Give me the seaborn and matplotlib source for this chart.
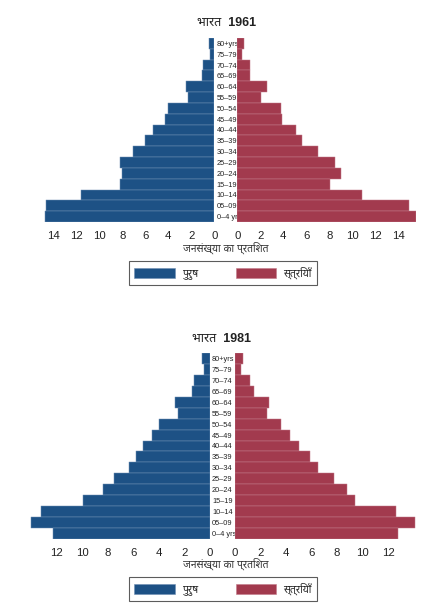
import matplotlib
matplotlib.use("Agg")
import matplotlib.pyplot as plt
from matplotlib import font_manager as fm
from matplotlib.patches import Patch
import seaborn as sns
import pandas as pd

ages = ["80+yrs", "75–79", "70–74", "65–69", "60–64", "55–59", "50–54", "45–49",
        "40–44", "35–39", "30–34", "25–29", "20–24", "15–19", "10–14", "05–09", "0–4 yrs"]

male_1961 = [0.5, 0.35, 1.0, 1.1, 2.5, 2.3, 4.0, 4.3, 5.3, 6.0, 7.1, 8.2, 8.0, 8.2, 11.6, 14.6, 14.7]
female_1961 = [0.6, 0.4, 1.1, 1.1, 2.6, 2.1, 3.8, 3.9, 5.1, 5.6, 7.0, 8.5, 9.0, 8.1, 10.8, 14.9, 15.5]

male_1981 = [0.6, 0.47, 1.2, 1.4, 2.7, 2.5, 4.0, 4.5, 5.2, 5.8, 6.3, 7.5, 8.4, 9.9, 13.2, 14.0, 12.3]
female_1981 = [0.6, 0.47, 1.2, 1.5, 2.7, 2.5, 3.6, 4.3, 5.0, 5.9, 6.5, 7.8, 8.8, 9.4, 12.6, 14.1, 12.8]

ticks_1961 = [0, 2, 4, 6, 8, 10, 12, 14]
ticks_1981 = [0, 2, 4, 6, 8, 10, 12]

title_1961 = "भारत  1961"
title_1981 = "भारत  1981"
xlabel = "जनसंख्या का प्रतिशत"
legend_labels = ["पुरुष", "स्त्रियाँ"]

BLUE = "#1d5185"
RED = "#a23a4e"

sns.set_theme(style="white")


def find_deva():
    for name in ["Noto Sans Devanagari", "Noto Serif Devanagari", "Lohit Devanagari",
                 "Mukta", "Hind", "FreeSans", "Gargi", "Kalimati", "Mangal"]:
        try:
            fm.findfont(fm.FontProperties(family=name), fallback_to_default=False)
            return name
        except Exception:
            pass
    try:
        from fontTools.ttLib import TTFont
        for f in fm.fontManager.ttflist:
            try:
                tt = TTFont(f.fname, fontNumber=0, lazy=True)
                cmap = tt.getBestCmap()
                if cmap and 0x092D in cmap:
                    return f.name
            except Exception:
                pass
    except Exception:
        pass
    return None


deva = find_deva()
fams = ["Liberation Sans", "DejaVu Sans"]
if deva:
    fams = ["Liberation Sans", deva, "DejaVu Sans"]
plt.rcParams["font.family"] = fams

W, H = 432, 612
fig = plt.figure(figsize=(W / 100, H / 100), dpi=100)


def px_axes(left, top, width, height):
    return fig.add_axes([left / W, 1 - (top + height) / H, width / W, height / H])


def panel(top, bottom, m_left, m_right, m_lim, f_left, f_right, f_lim, male, female,
          ticks, title, title_x, title_y, xlabel_y, legend_y):
    df = pd.DataFrame({"age": ages, "male": male, "female": female})
    h = bottom - top
    axm = px_axes(m_left, top, m_right - m_left, h)
    axf = px_axes(f_left, top, f_right - f_left, h)
    sns.barplot(data=df, x="male", y="age", orient="h", color=BLUE, width=1.0,
                saturation=1, edgecolor="#6f8fb3", linewidth=0.35, ax=axm)
    sns.barplot(data=df, x="female", y="age", orient="h", color=RED, width=1.0,
                saturation=1, edgecolor="#c27b8a", linewidth=0.35, ax=axf)
    axm.set_xlim(m_lim, 0)
    axf.set_xlim(0, f_lim)
    for ax in (axm, axf):
        ax.set_ylim(len(ages) - 0.5, -0.5)
        ax.set_xlabel("")
        ax.set_ylabel("")
        for s in ax.spines.values():
            s.set_visible(False)
        ax.set_xticks(ticks)
        ax.set_xticklabels([str(t) for t in ticks])
        ax.tick_params(axis="x", length=0, pad=6.5, labelsize=8.2, colors="#222222")
        ax.set_facecolor("none")
    axm.yaxis.tick_right()
    axm.tick_params(axis="y", length=0, pad=1.6, labelsize=5.3, colors="#222222")
    axf.set_yticks([])
    fig.text(title_x / W, 1 - title_y / H, title, ha="center", va="center",
             fontsize=9, fontweight="bold", color="#222222")
    fig.text(226 / W, 1 - xlabel_y / H, xlabel, ha="center", va="center",
             fontsize=7.5, color="#333333")
    handles = [Patch(facecolor=BLUE, edgecolor="#6f8fb3", linewidth=0.4),
               Patch(facecolor=RED, edgecolor="#c27b8a", linewidth=0.4)]
    leg = fig.legend(handles, legend_labels, ncol=2, loc="center",
                     bbox_to_anchor=(223 / W, 1 - legend_y / H),
                     frameon=True, fancybox=False, edgecolor="#333333",
                     fontsize=7.5, handlelength=3.9, handleheight=1.15,
                     columnspacing=3.6, handletextpad=0.7, borderpad=0.5,
                     borderaxespad=0)
    leg.get_frame().set_linewidth(0.8)


panel(38, 222, 41.8, 214.3, 15.0, 237.3, 415.6, 15.5, male_1961, female_1961,
      ticks_1961, title_1961, 227, 23, 248, 273)
panel(353, 539, 28.6, 209.7, 14.2, 235.0, 417.3, 14.3, male_1981, female_1981,
      ticks_1981, title_1981, 222, 339, 564, 589)

fig.savefig("out.png", dpi=100, facecolor="white")
